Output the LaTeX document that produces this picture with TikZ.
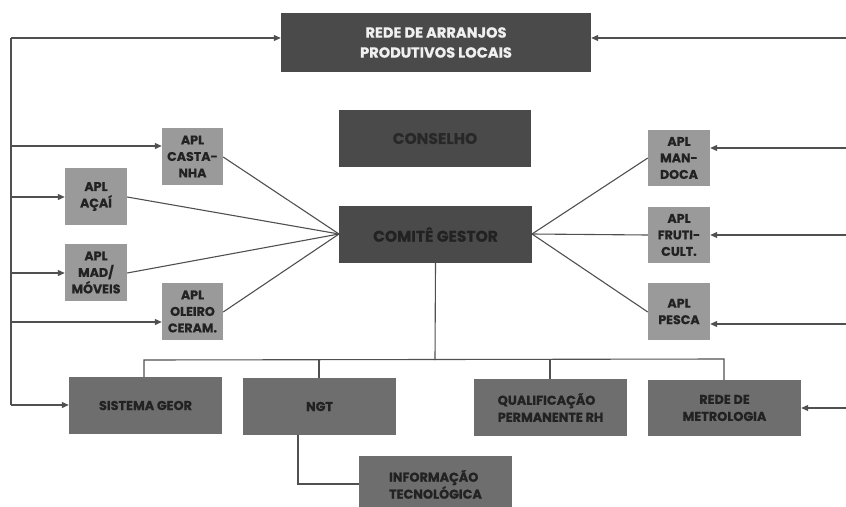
\documentclass[tikz,border=0pt]{standalone}
\usepackage{fontspec}
\setmainfont{Poppins}[BoldFeatures={FakeBold=0.6}]
\usetikzlibrary{arrows.meta}
\definecolor{darkbox}{HTML}{4A4A4A}
\definecolor{midbox}{HTML}{6E6E6E}
\definecolor{aplbox}{HTML}{9A9A9A}
\definecolor{wire}{HTML}{505050}
\definecolor{ink}{HTML}{222222}
\begin{document}
\begin{tikzpicture}[x=1pt,y=-1pt,
  box/.style={rectangle,inner sep=0pt,align=center,font=\bfseries,text=ink},
  headbox/.style={box,fill=darkbox,minimum height=57pt},
  aplbox/.style={box,fill=aplbox,minimum width=61pt,minimum height=57pt,
    font=\bfseries\fontsize{12.6}{16.5}\selectfont},
  unitbox/.style={box,fill=midbox,minimum width=153pt,minimum height=57pt,
    font=\bfseries\fontsize{12.8}{17}\selectfont},
  link/.style={draw=wire,line width=1.1pt},
  arr/.style={link,-{Triangle[length=7pt,width=6pt]}}]
\path[use as bounding box] (0,0) rectangle (846,506);

% governance boxes
\node[headbox,minimum width=310pt,minimum height=59pt,text=white!94!black,
  font=\bfseries\fontsize{14.6}{20}\selectfont] (rede) at (436,42.5)
  {REDE DE ARRANJOS\\PRODUTIVOS LOCAIS};
\node[headbox,minimum width=192pt,text=ink!85!darkbox,
  font=\bfseries\fontsize{15.5}{18}\selectfont] (cons) at (435,138.5) {CONSELHO};
\node[headbox,minimum width=193pt,text=ink,
  font=\bfseries\fontsize{15.5}{18}\selectfont] (comite) at (435.5,234.5) {COMITÊ GESTOR};

% APL boxes, left
\node[aplbox] (cast) at (192.5,156.5) {APL\\CASTA-\\NHA};
\node[aplbox,minimum width=62pt] (acai) at (96,196.5) {APL\\AÇAÍ};
\node[aplbox,minimum width=62pt] (mad) at (96,272.5) {APL\\MAD/\\MÓVEIS};
\node[aplbox] (oleiro) at (192.5,311.5) {APL\\OLEIRO\\CERAM.};

% APL boxes, right
\node[aplbox,minimum width=62pt,minimum height=56pt] (mand) at (679,158) {APL\\MAN-\\DOCA};
\node[aplbox,minimum width=62pt,minimum height=56pt] (fruti) at (679,235) {APL\\FRUTI-\\CULT.};
\node[aplbox,minimum width=62pt] (pesca) at (679,311.5) {APL\\PESCA};

% units under the committee
\node[unitbox] (geor) at (145.5,405.5) {SISTEMA GEOR};
\node[unitbox] (ngt) at (319.5,406.5) {NGT};
\node[unitbox,align=left] (qual) at (550.5,407.5) {QUALIFICAÇÃO\\PERMANENTE RH};
\node[unitbox,minimum height=56pt] (metro) at (724.5,408) {REDE DE\\METROLOGIA};
\node[unitbox,align=left] (info) at (435.5,484.5) {INFORMAÇÃO\\TECNOLÓGICA};

% APLs to the committee
\coordinate (cw) at (339,234);
\coordinate (ce) at (532,234);
\draw[link] (cast.east |- 0,157) -- (cw);
\draw[link] (acai.east |- 0,197) -- (cw);
\draw[link] (mad.east |- 0,273) -- (cw);
\draw[link] (oleiro.east |- 0,312) -- (cw);
\draw[link] (mand.west |- 0,158) -- (ce);
\draw[link] (fruti.west |- 0,235) -- (ce);
\draw[link] (pesca.west |- 0,312) -- (ce);

% left feedback bus
\coordinate (lt) at (11,38);
\coordinate (lb) at (11,405);
\draw[link] (lt) -- (lb);
\draw[arr] (lt) -- (lt -| rede.west);
\draw[arr] (11,146) -- (cast.west |- 0,146);
\draw[arr] (11,197) -- (acai.west |- 0,197);
\draw[arr] (11,273) -- (mad.west |- 0,273);
\draw[arr] (11,322) -- (oleiro.west |- 0,322);
\draw[arr] (lb) -- (geor.west |- lb);

% right inputs
\coordinate (r1) at (846,38);
\coordinate (r2) at (846,148);
\coordinate (r3) at (846,235);
\coordinate (r4) at (846,324);
\coordinate (r5) at (846,408);
\draw[arr] (r1) -- (r1 -| rede.east);
\draw[arr] (r2) -- (r2 -| mand.east);
\draw[arr] (r3) -- (r3 -| fruti.east);
\draw[arr] (r4) -- (r4 -| pesca.east);
\draw[arr] (r5) -- (r5 -| metro.east);

% committee tree
\coordinate (bus) at (435,360);
\draw[link] (comite.south) -- (bus);
\draw[link] (geor.north -| 144,0) -- (144,360) -- (724,359) -- (metro.north -| 724,0);
\draw[link] (319,360) -- (ngt.north -| 319,0);
\draw[link] (550,359.5) -- (qual.north -| 550,0);
\draw[link] (ngt.south -| 298,0) -- (298,484) -- (info.west |- 0,484);
\end{tikzpicture}
\end{document}
